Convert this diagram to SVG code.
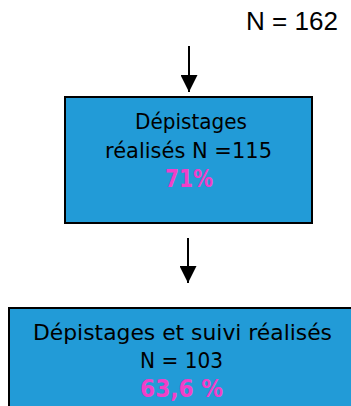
<svg xmlns="http://www.w3.org/2000/svg" width="351" height="406" viewBox="0 0 351 406">
<defs>
<marker id="ah" markerWidth="17" markerHeight="17" viewBox="0 0 17 17" refX="17" refY="8.5" orient="auto" markerUnits="userSpaceOnUse">
<path d="M0,0 L17,8.5 L0,17 Z" fill="#000"/>
</marker>
<style>
.box{fill:#229BD7;stroke:#000;stroke-width:2}
.t{font-family:"DejaVu Sans","Noto Sans",sans-serif;font-size:22px;fill:#000;text-anchor:middle}
.p{font-family:"DejaVu Sans","Noto Sans",sans-serif;font-size:24px;font-weight:bold;fill:#F23FC8;text-anchor:middle}
.lbl{font-family:"Liberation Sans",Arial,sans-serif;font-size:26px;fill:#000}
.c{stroke:#000;stroke-width:2;fill:none}
</style>
</defs>
<g id="label-total">
<text class="lbl" x="246" y="30" textLength="92" lengthAdjust="spacingAndGlyphs">N = 162</text>
</g>
<g id="connectors">
<line class="c" x1="189" y1="46" x2="189" y2="92" marker-end="url(#ah)"/>
<line class="c" x1="188" y1="238" x2="188" y2="283" marker-end="url(#ah)"/>
</g>
<g id="node-depistages">
<rect class="box" x="65" y="97" width="247" height="126"/>
<text class="t" x="191" y="129" textLength="112" lengthAdjust="spacingAndGlyphs">Dépistages</text>
<text class="t" x="188.5" y="158" textLength="167" lengthAdjust="spacingAndGlyphs">réalisés N =115</text>
<text class="p" x="189" y="187" textLength="48" lengthAdjust="spacingAndGlyphs">71%</text>
</g>
<g id="node-suivi">
<rect class="box" x="9" y="308" width="350" height="110"/>
<text class="t" x="182.5" y="340" textLength="299" lengthAdjust="spacingAndGlyphs">Dépistages et suivi réalisés</text>
<text class="t" x="181.5" y="368" textLength="83" lengthAdjust="spacingAndGlyphs">N = 103</text>
<text class="p" x="181.5" y="397" textLength="83" lengthAdjust="spacingAndGlyphs">63,6 %</text>
</g>
</svg>
